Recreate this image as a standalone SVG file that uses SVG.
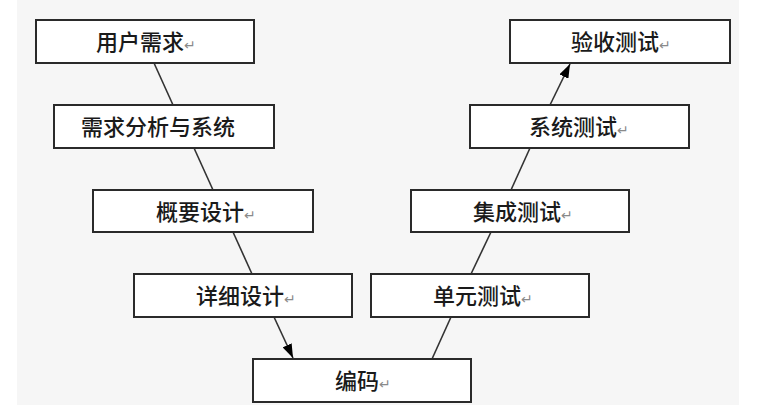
<svg xmlns="http://www.w3.org/2000/svg" width="764" height="418" viewBox="0 0 764 418">
<defs>
<style>
.box{fill:#ffffff;stroke:#2a2a2a;stroke-width:2}
.t{font-family:"Noto Sans CJK SC","Noto Sans",sans-serif;font-size:22px;font-weight:500;fill:#1a1a1a}
.r{font-family:"DejaVu Sans",sans-serif;font-size:14px;font-weight:400;fill:#8a8a8a}
.ln{stroke:#333333;stroke-width:1.6;fill:none}
</style>
<marker id="ah" viewBox="0 0 14 10" refX="14" refY="5" markerWidth="14" markerHeight="10" markerUnits="userSpaceOnUse" orient="auto">
<path d="M0,0 L14,5 L0,10 z" fill="#000"/>
</marker>
</defs>
<rect x="0" y="0" width="764" height="418" fill="#ffffff"/>
<rect x="17" y="0" width="722" height="405" fill="#f6f6f6"/>
<g id="connectors">
<line class="ln" x1="154" y1="63" x2="173" y2="105"/>
<line class="ln" x1="194" y1="148" x2="213" y2="190"/>
<line class="ln" x1="233" y1="232" x2="252" y2="274"/>
<line class="ln" x1="274" y1="317" x2="293" y2="358" marker-end="url(#ah)"/>
<line class="ln" x1="432" y1="359" x2="451" y2="317"/>
<line class="ln" x1="471" y1="274" x2="491" y2="232"/>
<line class="ln" x1="511" y1="190" x2="530" y2="148"/>
<line class="ln" x1="550" y1="105" x2="570" y2="64" marker-end="url(#ah)"/>
</g>
<g id="n1"><rect class="box" x="36" y="20" width="218" height="43"/><text class="t" x="96" y="50">用户需求<tspan class="r">↵</tspan></text></g>
<g id="n2"><rect class="box" x="54" y="105" width="220" height="43"/><text class="t" x="81" y="135">需求分析与系统</text></g>
<g id="n3"><rect class="box" x="93" y="190" width="220" height="42"/><text class="t" x="156" y="220">概要设计<tspan class="r">↵</tspan></text></g>
<g id="n4"><rect class="box" x="134" y="274" width="218" height="43"/><text class="t" x="196" y="304">详细设计<tspan class="r">↵</tspan></text></g>
<g id="n5"><rect class="box" x="253" y="359" width="218" height="43"/><text class="t" x="335" y="389">编码<tspan class="r">↵</tspan></text></g>
<g id="n6"><rect class="box" x="371" y="274" width="218" height="43"/><text class="t" x="433" y="304">单元测试<tspan class="r">↵</tspan></text></g>
<g id="n7"><rect class="box" x="411" y="190" width="218" height="42"/><text class="t" x="473" y="220">集成测试<tspan class="r">↵</tspan></text></g>
<g id="n8"><rect class="box" x="470" y="105" width="219" height="43"/><text class="t" x="529" y="135">系统测试<tspan class="r">↵</tspan></text></g>
<g id="n9"><rect class="box" x="510" y="20" width="220" height="43"/><text class="t" x="571" y="50">验收测试<tspan class="r">↵</tspan></text></g>
</svg>
